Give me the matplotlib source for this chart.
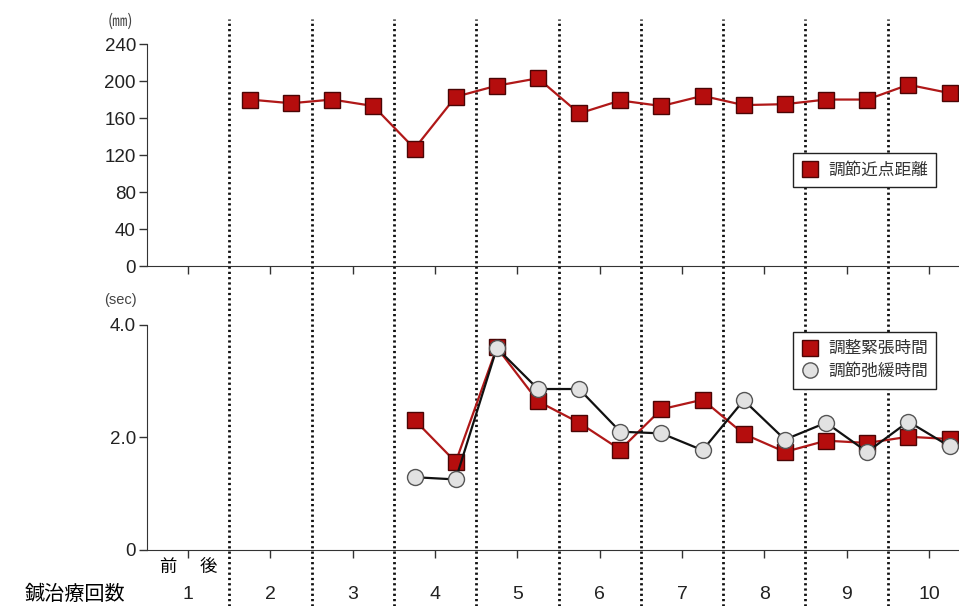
import numpy as np
import matplotlib.pyplot as plt
from matplotlib.lines import Line2D
import matplotlib.transforms as mtransforms

plt.rcParams['font.family'] = ['Liberation Sans', 'Noto Sans CJK JP', 'DejaVu Sans']

# 鍼治療回数 (前・後 per session); session 1 and parts of 2-3 have no data
sessions = ['1', '2', '3', '4', '5', '6', '7', '8', '9', '10']
pre_post = ['前', '後']

# 調節近点距離 (mm), sessions 2-10, pre/post
near_point = [180, 176, 180, 173, 127, 183, 195, 203, 165, 179,
              173, 184, 174, 175, 180, 180, 196, 187]
# 調整緊張時間 (sec), sessions 4-10
tension_time = [2.31, 1.56, 3.60, 2.64, 2.26, 1.78, 2.50, 2.67,
                2.06, 1.74, 1.94, 1.90, 2.01, 1.97]
# 調節弛緩時間 (sec), sessions 4-10
relax_time = [1.29, 1.25, 3.59, 2.86, 2.86, 2.10, 2.07, 1.77,
              2.66, 1.96, 2.26, 1.74, 2.28, 1.84]

x_all = np.arange(len(sessions) * 2) + 0.5
x_np = x_all[2:]
x_time = x_all[6:]

red_fill = '#b50d0d'
red_edge = '#4a0505'
red_line = '#b01818'
cjk = ['Noto Sans CJK JP', 'DejaVu Sans']

fig = plt.figure(figsize=(9.59, 6.06), dpi=100)
ax1 = fig.add_axes([0.1533, 0.561, 0.8467, 0.3663])
ax2 = fig.add_axes([0.1533, 0.093, 0.8467, 0.3707])
xmax = 19.73

for ax in (ax1, ax2):
    ax.set_xlim(0, xmax)
    ax.patch.set_alpha(0)
    ax.spines['top'].set_visible(False)
    ax.spines['right'].set_visible(False)
    ax.spines['left'].set_color('#333333')
    ax.spines['bottom'].set_color('#333333')
    ax.set_xticks(np.arange(1, 20, 2))
    ax.set_xticklabels([])
    ax.tick_params(direction='out', length=6, width=1, color='#333333',
                   labelsize=13.5, pad=2, labelcolor='#222222')

# top chart
ax1.plot(x_np, near_point, color=red_line, lw=1.6, marker='s', ms=12,
         mfc=red_fill, mec=red_edge, mew=1, zorder=3)
ax1.set_ylim(0, 240)
ax1.set_yticks([0, 40, 80, 120, 160, 200, 240])
fig.text(120 / 959, 1 - 21 / 606, '(㎜)', fontsize=11, ha='center', va='center',
         color='#444444', family=cjk)
h1 = Line2D([], [], linestyle='none', marker='s', ms=11, mfc=red_fill, mec=red_edge)
leg1 = ax1.legend([h1], ['調節近点距離'], loc='upper left',
                  bbox_to_anchor=(793 / 959, 1 - 153 / 606), bbox_transform=fig.transFigure,
                  borderaxespad=0, fancybox=False, edgecolor='#222222', framealpha=1,
                  prop={'family': 'Noto Sans CJK JP', 'size': 12}, handlelength=1.0,
                  handletextpad=0.6, borderpad=0.5, labelcolor='#333333')
leg1.set_zorder(5)

# bottom chart
ax2.plot(x_time, relax_time, color='#111111', lw=1.6, marker='o', ms=11.5,
         mfc='#e2e2e2', mec='#555555', mew=1, zorder=3)
ax2.plot(x_time, tension_time, color=red_line, lw=1.6, marker='s', ms=12,
         mfc=red_fill, mec=red_edge, mew=1, zorder=2)
ax2.set_ylim(0, 4.0)
ax2.set_yticks([0, 2.0, 4.0])
ax2.set_yticklabels(['0', '2.0', '4.0'])
fig.text(120 / 959, 1 - 300 / 606, '(sec)', fontsize=10.5, ha='center', va='center',
         color='#444444')
h2 = Line2D([], [], linestyle='none', marker='s', ms=11, mfc=red_fill, mec=red_edge)
h3 = Line2D([], [], linestyle='none', marker='o', ms=11, mfc='#e2e2e2', mec='#555555')
leg2 = ax2.legend([h2, h3], ['調整緊張時間', '調節弛緩時間'], loc='upper left',
                  bbox_to_anchor=(793 / 959, 1 - 332 / 606), bbox_transform=fig.transFigure,
                  borderaxespad=0, fancybox=False, edgecolor='#222222', framealpha=1,
                  prop={'family': 'Noto Sans CJK JP', 'size': 12}, handlelength=1.0,
                  handletextpad=0.6, borderpad=0.5, labelspacing=0.35,
                  labelcolor='#333333')
leg2.set_zorder(5)

# x labels
xt = ax2.get_xaxis_transform()
for xi, lab in zip(x_all[:2], pre_post):
    ax2.text(xi, -0.077, lab, transform=xt, ha='center', va='center', fontsize=12.5,
             family=cjk)
for i, lab in enumerate(sessions):
    ax2.text(2 * i + 1, -0.198, lab, transform=xt, ha='center', va='center',
             fontsize=14, color='#222222')
fig.text(75 / 959, 1 - 594 / 606, '鍼治療回数', ha='center', va='center',
         fontsize=14.5, family=cjk)

# dotted session separators running through both panels (behind the axes)
bt = mtransforms.blended_transform_factory(ax1.transData, fig.transFigure)
for b in range(2, 20, 2):
    fig.add_artist(Line2D([b, b], [0.0, 1 - 19 / 606], transform=bt,
                          color='#111111', lw=2.0, linestyle=(0, (0.8, 1.1)),
                          zorder=-1))

fig.savefig('out.png', dpi=100)
